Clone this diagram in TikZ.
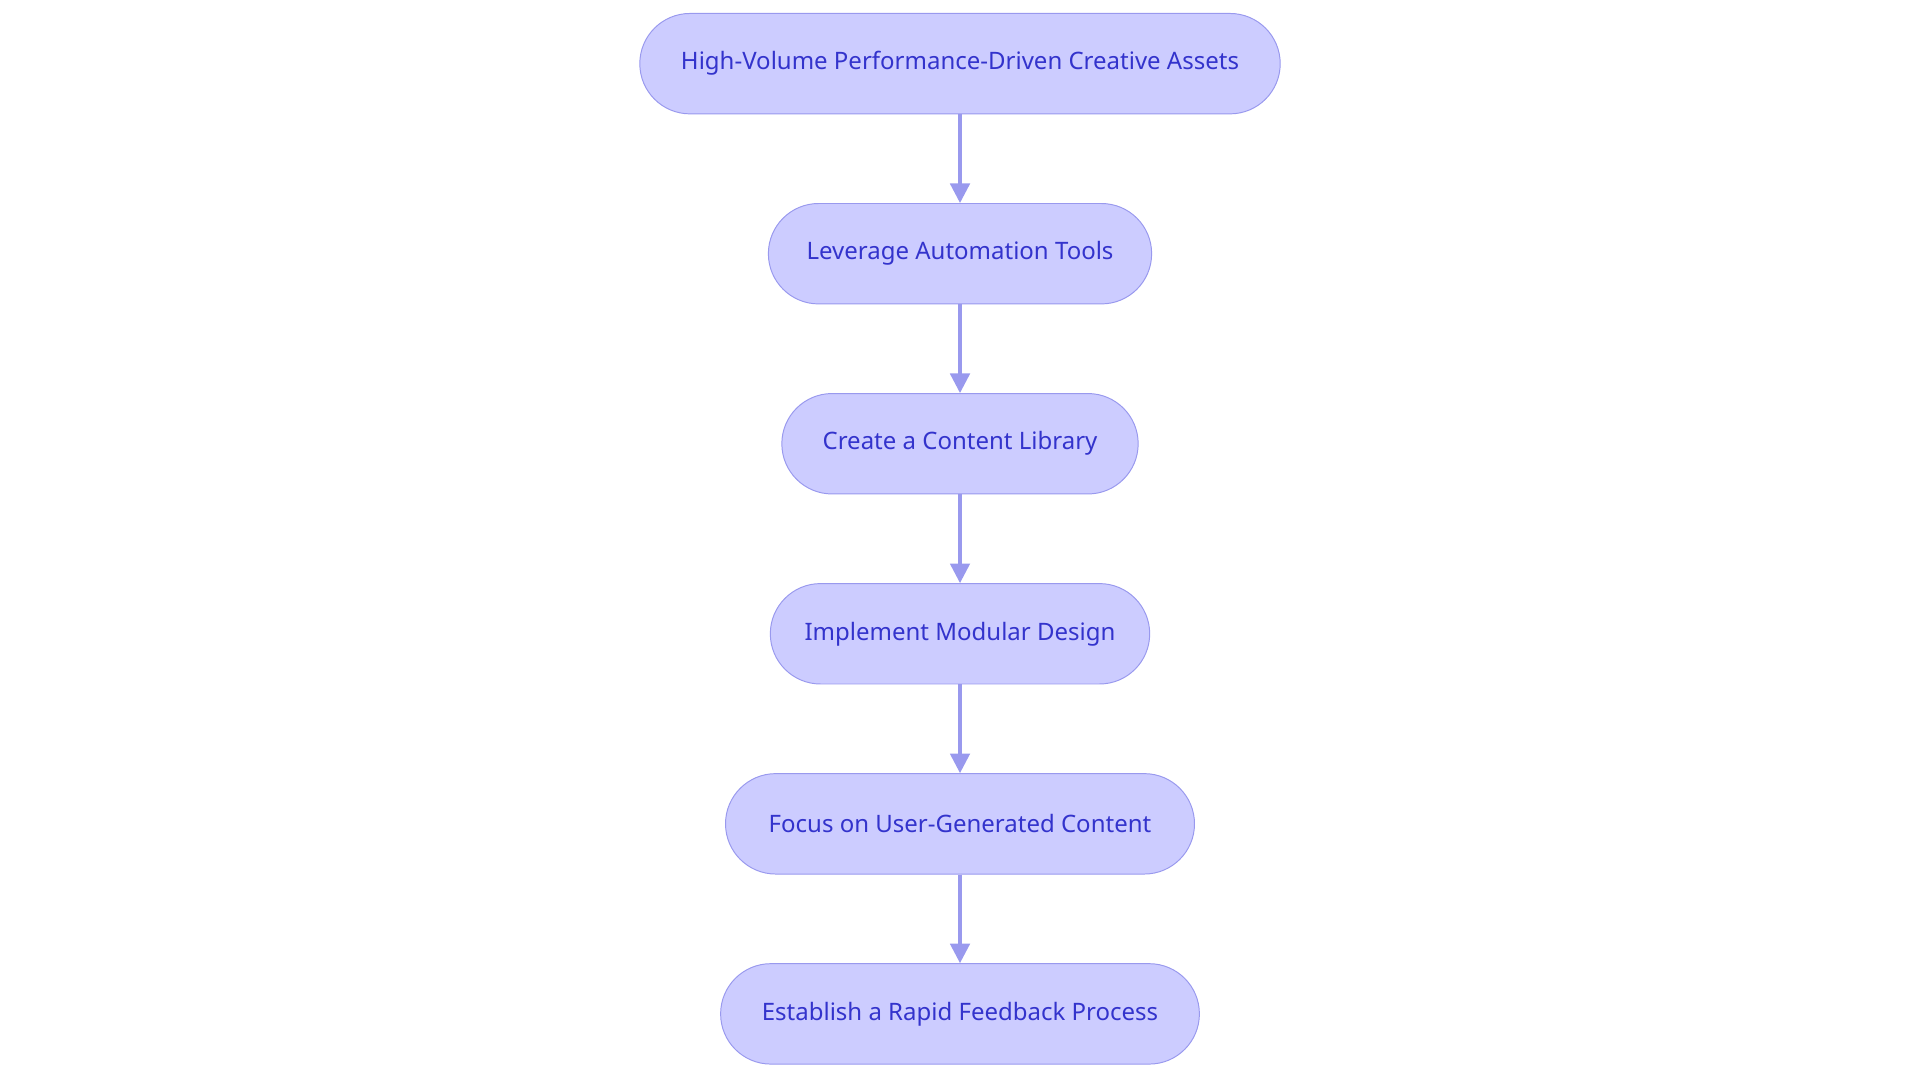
\documentclass[tikz,border=0pt]{standalone}
\usepackage{fontspec}
\setmainfont{Noto Sans}
\usetikzlibrary{positioning,arrows.meta}
\definecolor{boxfill}{HTML}{CCCCFF}
\definecolor{boxline}{HTML}{9999EE}
\definecolor{boxtext}{HTML}{3333CC}
\begin{document}
\begin{tikzpicture}[
  stage/.style={draw=boxline, fill=boxfill, text=boxtext, rounded corners=20.5pt,
    minimum height=41pt, font=\fontsize{9.8}{12}\selectfont, inner xsep=14pt},
  link/.style={draw=boxline, line width=1.3pt, -{Triangle[length=8pt,width=8pt]}},
  node distance=36.2pt]
\useasboundingbox (0,0) rectangle (784pt,442pt);
\node[stage, minimum width=261.5pt] (assets) at (392pt,416pt) {High-Volume Performance-Driven Creative Assets};
\node[stage, minimum width=156.5pt, below=of assets] (tools) {Leverage Automation Tools};
\node[stage, minimum width=145.5pt, below=of tools] (library) {Create a Content Library};
\node[stage, minimum width=153pt, below=of library] (modular) {Implement Modular Design};
\node[stage, minimum width=191.5pt, below=of modular] (ugc) {Focus on User-Generated Content};
\node[stage, minimum width=195.5pt, below=of ugc] (feedback) {Establish a Rapid Feedback Process};
% connectors
\foreach \a/\b in {assets/tools, tools/library, library/modular, modular/ugc, ugc/feedback}
  \draw[link] (\a) -- (\b);
\end{tikzpicture}
\end{document}
